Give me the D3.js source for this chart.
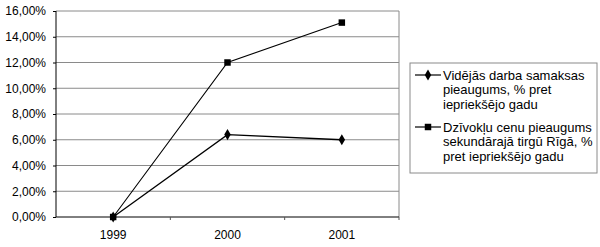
<!DOCTYPE html>
<html>
<head>
<meta charset="utf-8">
<script src="https://cdn.jsdelivr.net/npm/d3@7"></script>
<style>
  body { margin: 0; background: #fff; }
  svg { font-family: "Liberation Sans", Arial, sans-serif; }
</style>
</head>
<body>
<div id="chart"></div>
<script>
// chart data
const years = ['1999', '2000', '2001'];
const wageGrowth = [0, 6.4, 6.0];
const flatPriceGrowth = [0, 12.0, 15.1];
const yTicks = [0, 2, 4, 6, 8, 10, 12, 14, 16];
const legendWage = ['Vidējās darba samaksas', 'pieaugums, % pret', 'iepriekšējo gadu'];
const legendFlat = ['Dzīvokļu cenu pieaugums', 'sekundārajā tirgū Rīgā, %', 'pret iepriekšējo gadu'];

const width = 600, height = 247;
const margin = { top: 11, right: 201, bottom: 30, left: 56 };
const w = width - margin.left - margin.right;
const h = height - margin.top - margin.bottom;

const svg = d3.select('#chart').append('svg')
  .attr('width', width)
  .attr('height', height);

const g = svg.append('g')
  .attr('transform', `translate(${margin.left},${margin.top})`);

const x = d3.scaleBand().domain(years).range([0, w]);
const y = d3.scaleLinear().domain([0, 16]).range([h, 0]);

const fmt = d => d.toFixed(2).replace('.', ',') + '%';

// gridlines
g.selectAll('.grid').data(yTicks.slice(1)).enter().append('line')
  .attr('x1', 0).attr('x2', w)
  .attr('y1', d => y(d)).attr('y2', d => y(d))
  .attr('stroke', '#8a8a8a')
  .attr('stroke-width', 1);

// right border
g.append('line')
  .attr('x1', w).attr('x2', w).attr('y1', 0).attr('y2', h)
  .attr('stroke', '#8a8a8a');

// axes
const yAxis = g.append('g')
  .call(d3.axisLeft(y).tickValues(yTicks).tickFormat(fmt).tickSize(3).tickPadding(7));
yAxis.select('.domain').attr('stroke', '#000').attr('d', `M0,0V${h}`);
yAxis.selectAll('text').attr('font-size', 12).attr('fill', '#000')
  .attr('font-family', '"Liberation Sans", Arial, sans-serif');

const xAxis = g.append('g')
  .attr('transform', `translate(0,${h})`)
  .call(d3.axisBottom(x).tickSize(0).tickPadding(13));
xAxis.select('.domain').attr('stroke', '#000').attr('d', `M0,0H${w}`);
xAxis.selectAll('text').attr('font-size', 12).attr('fill', '#000')
  .attr('font-family', '"Liberation Sans", Arial, sans-serif');

// small ticks between categories
g.selectAll('.xtick').data(years.slice(1).concat(['end'])).enter().append('line')
  .attr('x1', (d, i) => x.step() * (i + 1)).attr('x2', (d, i) => x.step() * (i + 1))
  .attr('y1', h).attr('y2', h + 3)
  .attr('stroke', '#555');

const cx = d => x(d) + x.bandwidth() / 2;

const line = d3.line()
  .x((d, i) => cx(years[i]))
  .y(d => y(d));

// series lines
g.append('path').datum(flatPriceGrowth)
  .attr('fill', 'none').attr('stroke', '#000').attr('stroke-width', 1.1)
  .attr('d', line);
g.append('path').datum(wageGrowth)
  .attr('fill', 'none').attr('stroke', '#000').attr('stroke-width', 1.3)
  .attr('d', line);

const square = d3.symbol().type(d3.symbolSquare).size(42);
const diamond = d3.symbol().type(d3.symbolDiamond).size(36);

g.selectAll('.wage').data(wageGrowth).enter().append('path')
  .attr('d', diamond)
  .attr('transform', (d, i) => `translate(${cx(years[i])},${y(d)})`)
  .attr('fill', '#000');

g.selectAll('.flat').data(flatPriceGrowth).enter().append('path')
  .attr('d', square)
  .attr('transform', (d, i) => `translate(${cx(years[i])},${y(d)})`)
  .attr('fill', '#000');

// legend
const legend = svg.append('g').attr('transform', 'translate(410,63)');
legend.append('rect')
  .attr('width', 187).attr('height', 110)
  .attr('fill', '#fff').attr('stroke', '#8a8a8a');

const entries = [
  { lines: legendWage, sym: diamond, y0: 12 },
  { lines: legendFlat, sym: square, y0: 64 }
];
entries.forEach(e => {
  legend.append('line')
    .attr('x1', 5).attr('x2', 31).attr('y1', e.y0).attr('y2', e.y0)
    .attr('stroke', '#000').attr('stroke-width', 1.2);
  legend.append('path').attr('d', e.sym)
    .attr('transform', `translate(18,${e.y0})`).attr('fill', '#000');
  const t = legend.append('text')
    .attr('x', 33).attr('y', e.y0 + 4.5)
    .attr('font-size', 13).attr('fill', '#000');
  e.lines.forEach((s, i) => {
    t.append('tspan').attr('x', 33).attr('dy', i === 0 ? 0 : 14.5).text(s);
  });
});
</script>
</body>
</html>
